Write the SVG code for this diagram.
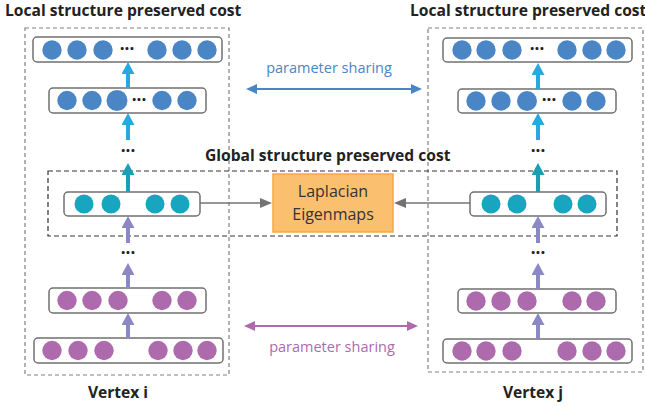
<svg xmlns="http://www.w3.org/2000/svg" width="645" height="407" viewBox="0 0 645 407">
<style>
text{font-family:"Open Sans","Liberation Sans",sans-serif;}
.title{font-size:15.6px;font-weight:bold;fill:#222;}
.row{fill:#fff;stroke:#707070;stroke-width:1.5;}
.outer{fill:none;stroke:#808080;stroke-width:1.2;stroke-dasharray:4 3;}
.glob{fill:none;stroke:#333;stroke-width:1.2;stroke-dasharray:5 3;}
.b{fill:#4a86c6;}
.t{fill:#17a5bf;}
.p{fill:#ad6aac;}
.dots{font-size:17px;font-weight:bold;fill:#222;text-anchor:middle;}
.ab{stroke:#29a8e0;stroke-width:4;}
.at{stroke:#1aa0b6;stroke-width:4;}
.ap{stroke:#8b88c6;stroke-width:4;}
.ag{stroke:#737373;stroke-width:1.6;}
.sb{stroke:#4a86c6;stroke-width:2;}
.sp{stroke:#ad6aac;stroke-width:2;}
.share{font-size:14.5px;text-anchor:middle;}
</style>
<defs>
<marker id="mb" markerUnits="userSpaceOnUse" markerWidth="12" markerHeight="13" viewBox="0 0 12 13" refX="1" refY="6.5" orient="auto"><path d="M0,0 L12,6.5 L0,13 z" fill="#29a8e0"/></marker>
<marker id="mt" markerUnits="userSpaceOnUse" markerWidth="12" markerHeight="13" viewBox="0 0 12 13" refX="1" refY="6.5" orient="auto"><path d="M0,0 L12,6.5 L0,13 z" fill="#1aa0b6"/></marker>
<marker id="mp" markerUnits="userSpaceOnUse" markerWidth="12" markerHeight="13" viewBox="0 0 12 13" refX="1" refY="6.5" orient="auto"><path d="M0,0 L12,6.5 L0,13 z" fill="#8b88c6"/></marker>
<marker id="mg" markerUnits="userSpaceOnUse" markerWidth="12" markerHeight="10" viewBox="0 0 12 10" refX="1" refY="5" orient="auto"><path d="M0,0 L12,5 L0,10 z" fill="#737373"/></marker>
<marker id="msb" markerUnits="userSpaceOnUse" markerWidth="11" markerHeight="10" viewBox="0 0 11 10" refX="1" refY="5" orient="auto-start-reverse"><path d="M0,0 L11,5 L0,10 z" fill="#4a86c6"/></marker>
<marker id="msp" markerUnits="userSpaceOnUse" markerWidth="11" markerHeight="10" viewBox="0 0 11 10" refX="1" refY="5" orient="auto-start-reverse"><path d="M0,0 L11,5 L0,10 z" fill="#ad6aac"/></marker>
</defs>

<rect width="645" height="407" fill="#fff"/>

<g id="frames">
<rect class="outer" x="25" y="28" width="204" height="347"/>
<rect class="outer" x="428" y="28" width="215" height="344"/>
<rect class="glob" x="48" y="171" width="569" height="65"/>
</g>

<g id="titles">
<text class="title" x="5" y="16">Local structure preserved cost</text>
<text class="title" x="410" y="16">Local structure preserved cost</text>
<text class="title" x="205" y="161">Global structure preserved cost</text>
<text class="title" x="118" y="398" text-anchor="middle">Vertex i</text>
<text class="title" x="533" y="398" text-anchor="middle">Vertex j</text>
</g>

<g id="vertex-i">
<g id="i-top">
<rect class="row" x="33" y="37" width="189" height="25" rx="4"/>
<circle class="b" cx="52" cy="50" r="9.7"/><circle class="b" cx="77" cy="50" r="9.7"/><circle class="b" cx="103" cy="50" r="9.7"/>
<text class="dots" x="127" y="55">···</text>
<circle class="b" cx="157" cy="50" r="9.7"/><circle class="b" cx="182" cy="50" r="9.7"/><circle class="b" cx="207" cy="50" r="9.7"/>
</g>
<g id="i-l2">
<rect class="row" x="49" y="88" width="157" height="25" rx="4"/>
<circle class="b" cx="67" cy="100.5" r="9.7"/><circle class="b" cx="92" cy="100.5" r="9.7"/><circle class="b" cx="117" cy="100.5" r="10.5"/>
<text class="dots" x="139" y="105.5">···</text>
<circle class="b" cx="162" cy="100.5" r="9.7"/><circle class="b" cx="187" cy="100.5" r="9.7"/>
</g>
<text class="dots" x="128" y="157">···</text>
<g id="i-teal">
<rect class="row" x="64" y="192" width="136" height="24" rx="4"/>
<circle class="t" cx="84" cy="204" r="9.5"/><circle class="t" cx="111" cy="204" r="9.5"/><circle class="t" cx="155" cy="204" r="9.5"/><circle class="t" cx="180" cy="204" r="9.5"/>
</g>
<text class="dots" x="128" y="259">···</text>
<g id="i-p2">
<rect class="row" x="49" y="288" width="157" height="25" rx="4"/>
<circle class="p" cx="67" cy="300.5" r="9.7"/><circle class="p" cx="92" cy="300.5" r="9.7"/><circle class="p" cx="118" cy="300.5" r="9.7"/><circle class="p" cx="162" cy="300.5" r="9.7"/><circle class="p" cx="187" cy="300.5" r="9.7"/>
</g>
<g id="i-bottom">
<rect class="row" x="34" y="338" width="189" height="25" rx="4"/>
<circle class="p" cx="52" cy="350.5" r="9.7"/><circle class="p" cx="78" cy="350.5" r="9.7"/><circle class="p" cx="104" cy="350.5" r="9.7"/><circle class="p" cx="158" cy="350.5" r="9.7"/><circle class="p" cx="183" cy="350.5" r="9.7"/><circle class="p" cx="207" cy="350.5" r="9.7"/>
</g>
</g>

<g id="vertex-j">
<g id="j-top">
<rect class="row" x="443" y="38" width="189" height="24" rx="4"/>
<circle class="b" cx="462" cy="50" r="9.7"/><circle class="b" cx="486" cy="50" r="9.7"/><circle class="b" cx="512" cy="50" r="9.7"/>
<text class="dots" x="537" y="55">···</text>
<circle class="b" cx="567" cy="50" r="9.7"/><circle class="b" cx="592" cy="50" r="9.7"/><circle class="b" cx="616" cy="50" r="9.7"/>
</g>
<g id="j-l2">
<rect class="row" x="458" y="89" width="158" height="24" rx="4"/>
<circle class="b" cx="476" cy="101" r="9.7"/><circle class="b" cx="501" cy="101" r="9.7"/><circle class="b" cx="527" cy="101" r="10"/>
<text class="dots" x="549" y="106">···</text>
<circle class="b" cx="572" cy="101" r="9.7"/><circle class="b" cx="596" cy="101" r="9.7"/>
</g>
<text class="dots" x="538" y="157">···</text>
<g id="j-teal">
<rect class="row" x="470" y="192" width="136" height="24" rx="4"/>
<circle class="t" cx="491" cy="204" r="9.5"/><circle class="t" cx="517" cy="204" r="9.5"/><circle class="t" cx="563" cy="204" r="9.5"/><circle class="t" cx="587" cy="204" r="9.5"/>
</g>
<text class="dots" x="538" y="259">···</text>
<g id="j-p2">
<rect class="row" x="458" y="289" width="158" height="24" rx="4"/>
<circle class="p" cx="476" cy="301" r="9.7"/><circle class="p" cx="501" cy="301" r="9.7"/><circle class="p" cx="527" cy="301" r="9.7"/><circle class="p" cx="572" cy="301" r="9.7"/><circle class="p" cx="596" cy="301" r="9.7"/>
</g>
<g id="j-bottom">
<rect class="row" x="443" y="339" width="189" height="24" rx="4"/>
<circle class="p" cx="462" cy="351" r="9.7"/><circle class="p" cx="486" cy="351" r="9.7"/><circle class="p" cx="512" cy="351" r="9.7"/><circle class="p" cx="567" cy="351" r="9.7"/><circle class="p" cx="592" cy="351" r="9.7"/><circle class="p" cx="616" cy="351" r="9.7"/>
</g>
</g>

<g id="laplacian">
<rect x="273" y="174" width="120" height="58" fill="#fbbf70" stroke="#f7a840" stroke-width="1.5"/>
<text x="333" y="197" font-size="16" fill="#333" text-anchor="middle">Laplacian</text>
<text x="333" y="220" font-size="16" fill="#333" text-anchor="middle">Eigenmaps</text>
</g>

<g id="sharing-labels">
<text class="share" x="329" y="73" fill="#4a86c6">parameter sharing</text>
<text class="share" x="332" y="352" fill="#ad6aac">parameter sharing</text>
</g>

<g id="connectors">
<line class="ab" x1="128" y1="88" x2="128" y2="73" marker-end="url(#mb)"/>
<line class="ab" x1="128" y1="140" x2="128" y2="124" marker-end="url(#mb)"/>
<line class="at" x1="128" y1="192" x2="128" y2="174" marker-end="url(#mt)"/>
<line class="ap" x1="128" y1="243" x2="128" y2="227" marker-end="url(#mp)"/>
<line class="ap" x1="128" y1="288" x2="128" y2="274" marker-end="url(#mp)"/>
<line class="ap" x1="128" y1="338" x2="128" y2="324" marker-end="url(#mp)"/>
<line class="ab" x1="538" y1="89" x2="538" y2="74" marker-end="url(#mb)"/>
<line class="ab" x1="538" y1="140" x2="538" y2="124" marker-end="url(#mb)"/>
<line class="at" x1="538" y1="192" x2="538" y2="174" marker-end="url(#mt)"/>
<line class="ap" x1="538" y1="243" x2="538" y2="227" marker-end="url(#mp)"/>
<line class="ap" x1="538" y1="289" x2="538" y2="274" marker-end="url(#mp)"/>
<line class="ap" x1="538" y1="339" x2="538" y2="324" marker-end="url(#mp)"/>
<line class="ag" x1="200" y1="203" x2="261" y2="203" marker-end="url(#mg)"/>
<line class="ag" x1="470" y1="203" x2="405" y2="203" marker-end="url(#mg)"/>
<line class="sb" x1="256" y1="89" x2="412" y2="89" marker-start="url(#msb)" marker-end="url(#msb)"/>
<line class="sp" x1="254" y1="326" x2="408" y2="326" marker-start="url(#msp)" marker-end="url(#msp)"/>
</g>
</svg>
